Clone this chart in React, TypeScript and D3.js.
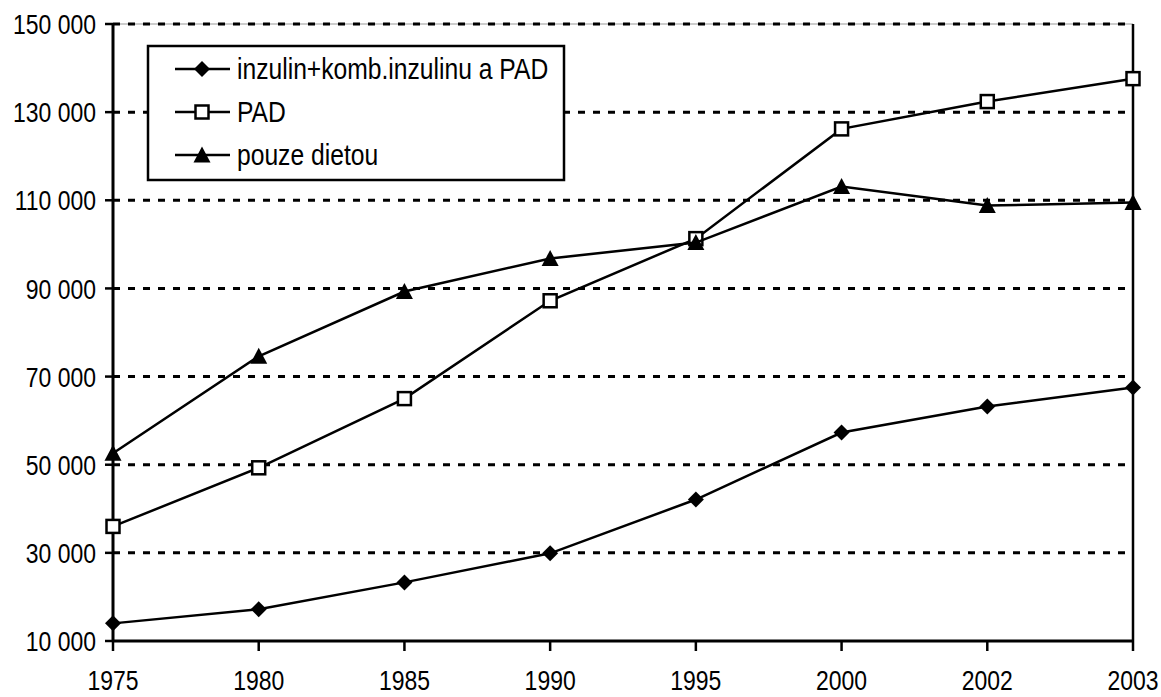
import React from "react";
import * as d3 from "d3";

const years = ["1975", "1980", "1985", "1990", "1995", "2000", "2002", "2003"];
const inzulin = [14000, 17200, 23300, 29900, 42100, 57300, 63200, 67500];
const pad = [36000, 49300, 65000, 87200, 101300, 126200, 132400, 137600];
const dieta = [52600, 74600, 89300, 96800, 100400, 113100, 108800, 109500];
const yTicks = [10000, 30000, 50000, 70000, 90000, 110000, 130000, 150000];
const seriesNames = ["inzulin+komb.inzulinu a PAD", "PAD", "pouze dietou"];

const W = 1161;
const H = 697;
const L = 113;
const R = 1133;
const T = 24;
const B = 641;
const FONT = "'Liberation Sans', Arial, sans-serif";

const fmt = (v: number) => d3.format(",")(v).replace(/,/g, " ");

function NText({
  x,
  y,
  anchor,
  dy,
  size = 28,
  sx = 0.82,
  children,
}: {
  x: number;
  y: number;
  anchor?: "start" | "middle" | "end";
  dy?: string;
  size?: number;
  sx?: number;
  children: React.ReactNode;
}) {
  return (
    <text
      transform={`translate(${x},${y}) scale(${sx},1)`}
      dy={dy}
      textAnchor={anchor || "start"}
      fontSize={size}
      fill="#000"
      fontFamily={FONT}
    >
      {children}
    </text>
  );
}

function Marker({ kind, x, y }: { kind: string; x: number; y: number }) {
  if (kind === "diamond") {
    const s = 8;
    return <path d={`M${x},${y - s}L${x + s},${y}L${x},${y + s}L${x - s},${y}Z`} fill="#000" />;
  }
  if (kind === "square") {
    const s = 6.5;
    return <rect x={x - s} y={y - s} width={2 * s} height={2 * s} fill="#fff" stroke="#000" strokeWidth={2.5} />;
  }
  const s = 8.5;
  return <path d={`M${x},${y - s}L${x + s},${y + 7.5}L${x - s},${y + 7.5}Z`} fill="#000" />;
}

export default function App() {
  const x = d3.scalePoint<string>().domain(years).range([L, R]).padding(0);
  const y = d3.scaleLinear().domain([10000, 150000]).range([B, T]);
  const line = d3
    .line<number>()
    .x((_, i) => x(years[i]) as number)
    .y((d) => y(d));

  const series = [
    { name: seriesNames[0], values: inzulin, kind: "diamond" },
    { name: seriesNames[1], values: pad, kind: "square" },
    { name: seriesNames[2], values: dieta, kind: "triangle" },
  ];

  const legX = 148;
  const legY = 46;
  const legW = 416;
  const legH = 134;
  const rowY = [69, 112, 155];

  return (
    <svg
      width={W}
      height={H}
      style={{ position: "absolute", left: 0, top: 0, display: "block", background: "#fff" }}
    >
      <rect x={0} y={0} width={W} height={H} fill="#fff" />
      {/* top frame */}
      <line x1={L} x2={R} y1={T} y2={T} stroke="#999" strokeWidth={1} />
      {/* gridlines */}
      {yTicks.slice(1).map((t) => (
        <line key={t} x1={L} x2={R} y1={y(t)} y2={y(t)} stroke="#000" strokeWidth={3} strokeDasharray="7,8" />
      ))}
      {/* right frame */}
      <line x1={R} x2={R} y1={T} y2={B} stroke="#000" strokeWidth={2.5} />
      {/* y axis */}
      <line x1={L} x2={L} y1={T} y2={B} stroke="#000" strokeWidth={3} />
      {yTicks.map((t) => (
        <g key={t}>
          <line x1={L - 8} x2={L} y1={y(t)} y2={y(t)} stroke="#000" strokeWidth={2.5} />
          <NText x={96} y={y(t)} dy="0.36em" anchor="end">
            {fmt(t)}
          </NText>
        </g>
      ))}
      {/* x axis */}
      <line x1={L} x2={R} y1={B} y2={B} stroke="#000" strokeWidth={3} />
      {years.map((yr) => (
        <g key={yr}>
          <line x1={x(yr)} x2={x(yr)} y1={B} y2={B + 10} stroke="#000" strokeWidth={2.5} />
          <NText x={x(yr) as number} y={690} anchor="middle">
            {yr}
          </NText>
        </g>
      ))}
      {/* legend */}
      <rect x={legX} y={legY} width={legW} height={legH} fill="#fff" stroke="#000" strokeWidth={2.5} />
      {series.map((s, i) => (
        <g key={s.name}>
          <line x1={175} x2={230} y1={rowY[i]} y2={rowY[i]} stroke="#000" strokeWidth={2.5} />
          <Marker kind={s.kind} x={202} y={rowY[i]} />
          <NText x={237} y={rowY[i]} dy="0.36em" size={29} sx={0.85}>
            {s.name}
          </NText>
        </g>
      ))}
      {/* series */}
      {series.map((s) => (
        <g key={s.name}>
          <path d={line(s.values) || ""} fill="none" stroke="#000" strokeWidth={2.5} />
          {s.values.map((v, i) => (
            <Marker key={i} kind={s.kind} x={x(years[i]) as number} y={y(v)} />
          ))}
        </g>
      ))}
    </svg>
  );
}
